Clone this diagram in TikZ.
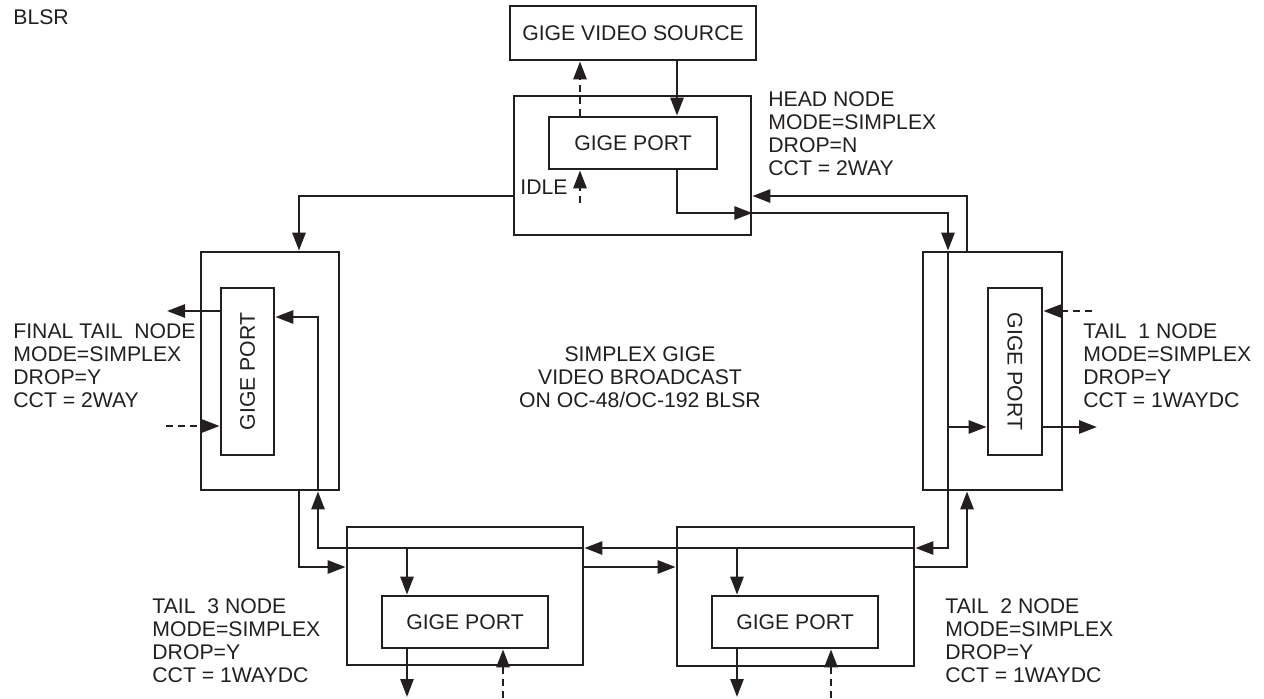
\documentclass[tikz,border=0pt]{standalone}
\usepackage{fontspec}
\setmainfont{Liberation Sans}
\usetikzlibrary{arrows.meta}
\definecolor{ink}{RGB}{35,31,32}
\begin{document}
\begin{tikzpicture}[x=0.5pt,y=-0.5pt,
  line/.style={draw=ink,line width=1.35pt},
  arr/.style={line,-{Triangle[length=9pt,width=6.5pt]}},
  darr/.style={arr,dash pattern=on 3.5pt off 2.5pt},
  box/.style={draw=ink,line width=1.35pt,inner sep=0pt,font=\fontsize{10.6}{11.5}\selectfont,text=ink},
  txt/.style={inner sep=0pt,align=left,font=\fontsize{10.6}{11.5}\selectfont,text=ink}]
\useasboundingbox (0,0) rectangle (1264,698);

% boxes
\node[box,minimum width=123pt,minimum height=27pt] (src) at (633,33) {GIGE VIDEO SOURCE};
\node[box,minimum width=118.5pt,minimum height=69.5pt] (head) at (632.5,165.5) {};
\node[box,minimum width=84pt,minimum height=26pt] (hport) at (633,143) {GIGE PORT};
\node[box,minimum width=69pt,minimum height=119pt] (ft) at (270,371) {};
\node[box,minimum width=26.5pt,minimum height=83.5pt] (ftport) at (247.5,371.5) {\rotatebox{90}{GIGE PORT}};
\node[box,minimum width=69.5pt,minimum height=119pt] (t1) at (992.5,371) {};
\node[box,minimum width=27pt,minimum height=83.5pt] (t1port) at (1015,371.5) {\rotatebox{-90}{GIGE PORT}};
\node[box,minimum width=118pt,minimum height=69pt] (t3) at (465,596) {};
\node[box,minimum width=83pt,minimum height=26pt] (t3port) at (465,622) {GIGE PORT};
\node[box,minimum width=118.5pt,minimum height=69.5pt] (t2) at (795.5,596.5) {};
\node[box,minimum width=83pt,minimum height=26pt] (t2port) at (795,622) {GIGE PORT};

% texts
\node[txt,anchor=west] (blsr) at (13,17) {BLSR};
\node[txt,anchor=west] (headlbl) at (768,134) {HEAD NODE\\MODE=SIMPLEX\\DROP=N\\CCT = 2WAY};
\node[txt,anchor=west] (t1lbl) at (1083,366) {TAIL\ \ 1 NODE\\MODE=SIMPLEX\\DROP=Y\\CCT = 1WAYDC};
\node[txt,anchor=west] (ftlbl) at (13,366) {FINAL TAIL\ \ NODE\\MODE=SIMPLEX\\DROP=Y\\CCT = 2WAY};
\node[txt,anchor=west] (t3lbl) at (152,641) {TAIL\ \ 3 NODE\\MODE=SIMPLEX\\DROP=Y\\CCT = 1WAYDC};
\node[txt,anchor=west] (t2lbl) at (945,641) {TAIL\ \ 2 NODE\\MODE=SIMPLEX\\DROP=Y\\CCT = 1WAYDC};
\node[txt,align=center] (center) at (640,377) {SIMPLEX GIGE\\VIDEO BROADCAST\\ON OC-48/OC-192 BLSR};
\node[txt,anchor=east] (idlelbl) at (568,187.5) {IDLE};

% helper coordinates
\coordinate (xs) at (677,0);
\coordinate (xd) at (580,0);
\coordinate (idle) at (580,203);
\coordinate (yA) at (0,196);
\coordinate (yB) at (0,213);
\coordinate (xL) at (948,0);
\coordinate (xR) at (967,0);
\coordinate (xF) at (299,0);
\coordinate (xG) at (318,0);
\coordinate (yC) at (0,567);
\coordinate (yD) at (0,548);
\coordinate (yE) at (0,317);
\coordinate (yF) at (0,427);
\coordinate (ftout) at (167,311);
\coordinate (ftin) at (166,426);
\coordinate (t1in) at (1092,311);
\coordinate (t1out) at (1097,427);
\coordinate (t3x) at (407,0);
\coordinate (t3d) at (503,698);
\coordinate (t2x) at (737,0);
\coordinate (t2d) at (831,698);
\coordinate (ybot) at (0,697);

% head node
\draw[arr] (xs |- src.south) -- (xs |- hport.north);
\draw[darr] (xd |- hport.north) -- (xd |- src.south);
\draw[darr] (idle) -- (idle |- hport.south);
\draw[arr] (xs |- hport.south) |- (head.east |- yB);
\draw[arr] (head.east |- yB) -| (t1.north -| xL);
\draw[arr] (t1.north -| xR) |- (head.east |- yA);
\draw[arr] (head.west |- yA) -| (ft.north -| xF);

% final tail node
\draw[arr] (ftport.west |- ftout) -- (ftout);
\draw[darr] (ftin) -- (ftin -| ftport.west);
\draw[arr] (ft.south -| xF) |- (t3.west |- yC);
\draw[arr] (ft.south -| xG) |- (ftport.east |- yE);

% lower ring
\draw[arr] (t3.east |- yC) -- (t2.west |- yC);
\draw[arr] (t2.east |- yC) -| (t1.south -| xR);
\draw[line] (t1.north -| xL) -- (t1.south -| xL);
\draw[arr] (t1.south -| xL) |- (t2.east |- yD);
\draw[arr] (t2.east |- yD) -- (t3.east |- yD);
\draw[arr] (t3.east |- yD) -| (ft.south -| xG);

% tail 1
\draw[arr] (xL |- yF) -- (t1port.west |- yF);
\draw[darr] (t1in) -- (t1in -| t1port.east);
\draw[arr] (t1port.east |- t1out) -- (t1out);

% tail 3
\draw[arr] (t3x |- yD) -- (t3x |- t3port.north);
\draw[arr] (t3x |- t3port.south) -- (t3x |- ybot);
\draw[darr] (t3d) -- (t3d |- t3port.south);

% tail 2
\draw[arr] (t2x |- yD) -- (t2x |- t2port.north);
\draw[arr] (t2x |- t2port.south) -- (t2x |- ybot);
\draw[darr] (t2d) -- (t2d |- t2port.south);
\end{tikzpicture}
\end{document}
